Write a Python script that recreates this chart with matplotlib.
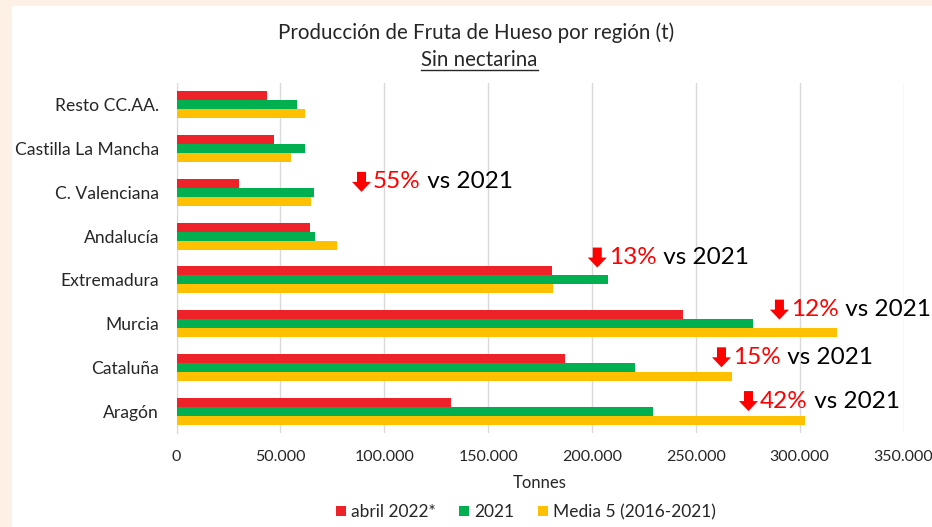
import matplotlib
matplotlib.use("Agg")
import matplotlib.pyplot as plt
from matplotlib.patches import Rectangle, Patch, Polygon
from matplotlib.ticker import FuncFormatter, MultipleLocator
from matplotlib.transforms import ScaledTranslation
import numpy as np

plt.rcParams['font.family'] = ['Lato', 'DejaVu Sans']

# ---- data (bottom to top) ----
regions = ["Aragón", "Cataluña", "Murcia", "Extremadura", "Andalucía",
           "C. Valenciana", "Castilla La Mancha", "Resto CC.AA."]
abril_2022 = [132100, 187200, 243800, 180600, 64300, 30100, 46800, 43400]
y2021 = [229400, 220900, 277500, 207700, 66700, 66300, 61900, 57900]
media5 = [302600, 267600, 318100, 181100, 77400, 64600, 55000, 61900]
series_names = ["abril 2022*", "2021", "Media 5 (2016-2021)"]
colors = ["#EE2229", "#00B050", "#FFC000"]

# annotations: (label, x, y)
notes = [("55%", 84500, 5.24), ("13%", 198000, 3.51), ("12%", 285700, 2.32),
         ("15%", 257800, 1.23), ("42%", 270800, 0.23)]

W, H = 932, 527
fig = plt.figure(figsize=(W / 100, H / 100), dpi=100)
fig.patch.set_facecolor("#FDF1E6")
fig.add_artist(Rectangle((12 / W, 0), 1 - 12 / W, 1 - 6 / H, transform=fig.transFigure,
                         facecolor="white", edgecolor="none", zorder=0))

ax = fig.add_axes([176.5 / W, 1 - 433 / H, (903.5 - 176.5) / W, (433 - 83) / H])
ax.set_facecolor("none")

y = np.arange(len(regions))
h = 0.205
vals = [abril_2022, y2021, media5]
offsets = [h, 0, -h]
for v, off, c in zip(vals, offsets, colors):
    ax.barh(y + off, v, height=h, color=c, zorder=3)

ax.set_xlim(0, 350000)
ax.set_ylim(-0.5, len(regions) - 0.5)
ax.set_yticks(y)
ax.set_yticklabels(regions, fontsize=12.6, color="#262626")
ax.xaxis.set_major_locator(MultipleLocator(50000))
ax.xaxis.set_major_formatter(FuncFormatter(lambda v, p: f"{int(v):,}".replace(",", ".")))
ax.tick_params(axis='x', length=0, pad=12, labelsize=11.5, labelcolor="#262626")
ax.tick_params(axis='y', length=0, pad=12.6)
ax.grid(axis='x', color="#D9D9D9", linewidth=1, zorder=0)
for s in ["top", "right", "bottom"]:
    ax.spines[s].set_visible(False)
ax.spines["left"].set_color("#D9D9D9")
ax.set_xlabel("Tonnes", fontsize=12, color="#262626", labelpad=8)

# keep the last tick label inside the picture
fig.canvas.draw()
last = ax.get_xticklabels()[-1]
last.set_transform(last.get_transform() + ScaledTranslation(-4 / 100, 0, fig.dpi_scale_trans))

fig.text(476 / W, 1 - 33 / H, "Producción de Fruta de Hueso por región (t)",
         ha="center", va="center", fontsize=14.8, color="#262626")
fig.text(479.5 / W, 1 - 60 / H, "Sin nectarina", ha="center", va="center",
         fontsize=14.8, color="#262626")
# underline
fig.add_artist(plt.Line2D([421 / W, 538 / W], [1 - 69.5 / H, 1 - 69.5 / H],
                          transform=fig.transFigure, color="#262626", linewidth=1))

# block down arrow shape (in pixels, converted to inches)
aw, ah, sw, hh = 19, 20, 9, 10
arrow_px = [(-sw / 2, ah / 2), (sw / 2, ah / 2), (sw / 2, ah / 2 - hh), (aw / 2, ah / 2 - hh),
            (0, -ah / 2), (-aw / 2, ah / 2 - hh), (-sw / 2, ah / 2 - hh)]
arrow_in = [((px + aw / 2) / 100, py / 100) for px, py in arrow_px]

for lab, nx, ny in notes:
    tr = fig.dpi_scale_trans + ScaledTranslation(nx, ny, ax.transData)
    ax.add_patch(Polygon(arrow_in, closed=True, transform=tr, facecolor="#FF0000",
                         edgecolor="none", zorder=5, clip_on=False))
    t2 = ax.annotate(lab, xy=(nx, ny), xytext=(aw + 2, 0), textcoords="offset pixels",
                     va="center", ha="left", fontsize=17.5, color="#FF0000", zorder=5)
    ax.annotate(" vs 2021", xy=(1, 0), xycoords=t2, va="bottom", ha="left",
                fontsize=17.5, color="#000000", zorder=5)

handles = [Patch(facecolor=c, edgecolor="none") for c in colors]
fig.legend(handles, series_names, loc="center", bbox_to_anchor=(526 / W, 1 - 512 / H),
           ncol=3, frameon=False, fontsize=12.5, handlelength=0.58, handleheight=0.58,
           handletextpad=0.3, columnspacing=1.35, labelcolor="#262626")

fig.savefig("out.png", dpi=100, facecolor=fig.get_facecolor())
